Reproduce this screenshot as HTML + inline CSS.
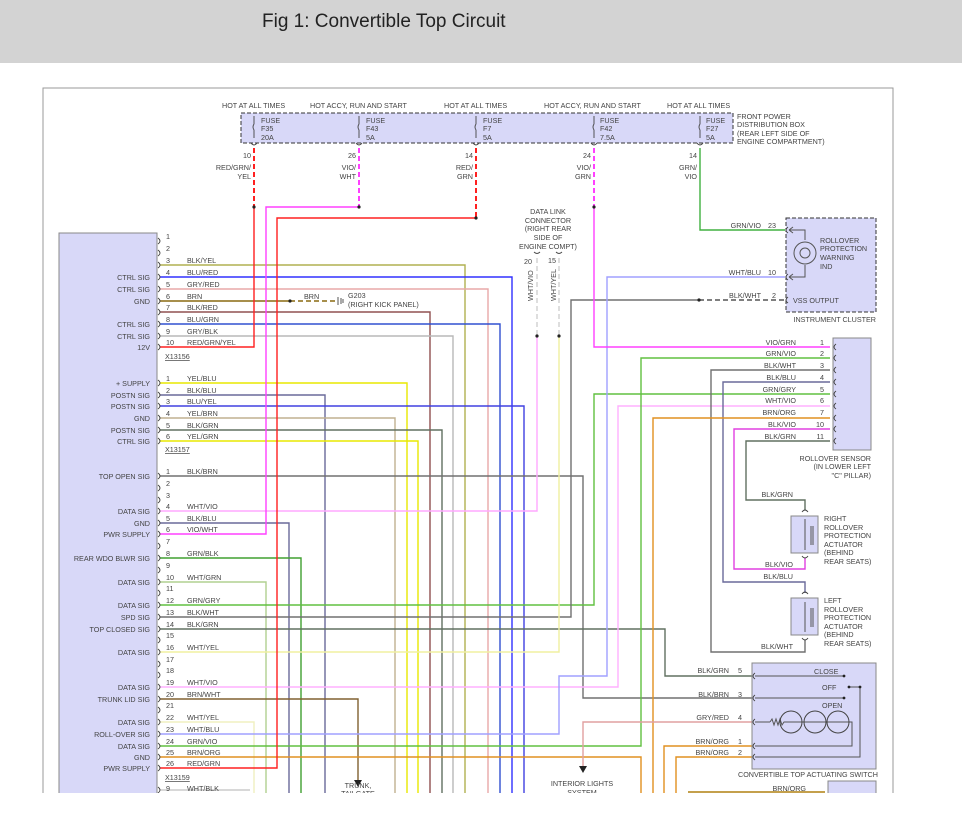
<!DOCTYPE html>
<html><head><meta charset="utf-8"><style>
html,body{margin:0;padding:0;background:#fff;width:962px;height:821px;overflow:hidden}
.hdr{position:absolute;left:0;top:0;width:962px;height:63px;background:#d3d3d3}
.hdr span{position:absolute;left:262px;top:11px;font:19px "Liberation Sans",sans-serif;color:#222}
svg{position:absolute;left:0;top:0}
text{font-family:"Liberation Sans",sans-serif;font-size:7.2px;fill:#444}
</style></head><body>
<div class="hdr"><span>Fig 1: Convertible Top Circuit</span></div>
<svg width="962" height="821" viewBox="0 0 962 821">
<defs><clipPath id="c"><rect x="0" y="64" width="962" height="729"/></clipPath></defs>
<g clip-path="url(#c)">
<g fill="none" stroke-width="1.4">
<path d="M43 793V88H893V793" stroke="#999" stroke-width="1"/>
<rect x="241" y="113" width="492" height="30" fill="#d8d8f8" stroke="#333" stroke-dasharray="4,2" stroke-width="1"/>
<rect x="59" y="233" width="98" height="580" fill="#d8d8f8" stroke="#888" stroke-width="1"/>
<path d="M254 148V207" stroke="#ff2020" stroke-dasharray="5,3" stroke-width="2"/>
<path d="M359 148V207" stroke="#ff40ff" stroke-dasharray="5,3" stroke-width="2"/>
<path d="M476 148V218" stroke="#ff2020" stroke-dasharray="5,3" stroke-width="2"/>
<path d="M594 148V207" stroke="#ff40ff" stroke-dasharray="5,3" stroke-width="2"/>
<path d="M700 148V230H785" stroke="#40b040"/>
<path d="M160 265H465V793" stroke="#b0b050"/>
<path d="M160 277H512V793" stroke="#3030ff"/>
<path d="M160 289H488V793" stroke="#e8a8a8"/>
<path d="M160 301H290" stroke="#8a6a10"/>
<path d="M290 301H336" stroke="#8a6a10" stroke-dasharray="5,3"/>
<path d="M160 312H430V793" stroke="#905050"/>
<path d="M160 324H500V793" stroke="#3050d0"/>
<path d="M160 336H453V793" stroke="#b8b8b8"/>
<path d="M160 347H254V207" stroke="#ff2020"/>
<path d="M160 383H407V793" stroke="#e8e800"/>
<path d="M160 395H325V793" stroke="#6a6a9a"/>
<path d="M160 406H524V793" stroke="#4040e0"/>
<path d="M160 418H395V793" stroke="#c0b090"/>
<path d="M160 430H442V793" stroke="#607060"/>
<path d="M160 441H418V793" stroke="#e8e800"/>
<path d="M160 476H583V698H752" stroke="#707070"/>
<path d="M160 511H537V336" stroke="#ffa8ff"/>
<path d="M160 523H289V793" stroke="#6a6a9a"/>
<path d="M160 534H266V207H359" stroke="#ff40ff"/>
<path d="M160 558H301V793" stroke="#40a030"/>
<path d="M160 582H266V793" stroke="#b0d090"/>
<path d="M160 605H594V394H830" stroke="#60c040"/>
<path d="M160 617H571V300H699" stroke="#707070"/>
<path d="M699 300H785" stroke="#555" stroke-dasharray="5,3"/>
<path d="M160 629H665V676H752" stroke="#607060"/>
<path d="M160 652H559V336" stroke="#f0f0a0"/>
<path d="M160 687H618V406H830" stroke="#ffb0ff"/>
<path d="M160 699H358V780" stroke="#806030"/>
<path d="M160 722H254V793" stroke="#f0f0c0"/>
<path d="M160 734H559V676H607V277H785" stroke="#a0a0ff"/>
<path d="M160 746H641V358H830" stroke="#60c040"/>
<path d="M160 757H641V793" stroke="#e09020"/>
<path d="M160 768H277V218H476" stroke="#ff2020"/>
<path d="M160 790H250" stroke="#ccc"/>
<path d="M594 207V347H830" stroke="#ff40ff"/>
<path d="M830 370H711V652H805V640" stroke="#707070"/>
<path d="M830 382H723V582H805V593" stroke="#6a6a9a"/>
<path d="M830 418H653V793" stroke="#e09020"/>
<path d="M830 429H734V569H805V558" stroke="#e040e0"/>
<path d="M830 441H746V500H805V510" stroke="#607060"/>
<path d="M752 746H664V793" stroke="#e09020"/>
<path d="M752 757H676V793" stroke="#e09020"/>
<path d="M688 792H825" stroke="#b08010"/>
<path d="M752 722H583V766" stroke="#e0a0a0"/>
<path d="M537 258V336M559 258V336" stroke="#d0d0d0" stroke-dasharray="5,3"/>
<rect x="786" y="218" width="90" height="94" fill="#d8d8f8" stroke="#333" stroke-dasharray="4,2" stroke-width="1"/>
<rect x="833" y="338" width="38" height="112" fill="#d8d8f8" stroke="#888" stroke-width="1"/>
<rect x="791" y="516" width="27" height="37" fill="#d8d8f8" stroke="#888" stroke-width="1"/>
<rect x="791" y="598" width="27" height="37" fill="#d8d8f8" stroke="#888" stroke-width="1"/>
<rect x="752" y="663" width="124" height="106" fill="#d8d8f8" stroke="#888" stroke-width="1"/>
<rect x="828" y="781" width="48" height="30" fill="#d8d8f8" stroke="#888" stroke-width="1"/>
<path d="M789 230H805V240M789 277H805V265M789 230l4-3M789 230l4 3M789 277l4-3M789 277l4 3" stroke="#555" stroke-width="1"/>
<circle cx="805" cy="253" r="11" stroke="#555" stroke-width="1"/>
<circle cx="805" cy="253" r="5" stroke="#555" stroke-width="1"/>
<path d="M805 519V550M811 526V545M813 526V545M805 602V632M811 608V627M813 608V627" stroke="#555" stroke-width="1"/>
<path d="M755 676H844M755 698H844M849 687H860V757H755M755 746H852V722H840M755 722H770" stroke="#555" stroke-width="1"/>
<path d="M770 722l2-3 2 6 2-6 2 6 2-6 2 6 2-3H840" stroke="#555" stroke-width="1"/>
<circle cx="791" cy="722" r="11" stroke="#444" stroke-width="1"/>
<circle cx="815" cy="722" r="11" stroke="#444" stroke-width="1"/>
<circle cx="838" cy="722" r="11" stroke="#444" stroke-width="1"/>
</g>
<g fill="none" stroke="#444" stroke-width="0.9">
<path d="M158 238q4 3 0 6M158 250q4 3 0 6M158 262q4 3 0 6M158 274q4 3 0 6M158 286q4 3 0 6M158 298q4 3 0 6M158 309q4 3 0 6M158 321q4 3 0 6M158 333q4 3 0 6M158 344q4 3 0 6"/>
<path d="M158 380q4 3 0 6M158 392q4 3 0 6M158 403q4 3 0 6M158 415q4 3 0 6M158 427q4 3 0 6M158 438q4 3 0 6"/>
<path d="M158 473q4 3 0 6M158 485q4 3 0 6M158 497q4 3 0 6M158 508q4 3 0 6M158 520q4 3 0 6M158 531q4 3 0 6M158 543q4 3 0 6M158 555q4 3 0 6M158 567q4 3 0 6M158 579q4 3 0 6M158 590q4 3 0 6M158 602q4 3 0 6M158 614q4 3 0 6M158 626q4 3 0 6M158 637q4 3 0 6M158 649q4 3 0 6M158 661q4 3 0 6M158 672q4 3 0 6M158 684q4 3 0 6M158 696q4 3 0 6M158 707q4 3 0 6M158 719q4 3 0 6M158 731q4 3 0 6M158 743q4 3 0 6M158 754q4 3 0 6M158 765q4 3 0 6M158 787q4 3 0 6"/>
<path d="M788 227q-4 3 0 6M788 274q-4 3 0 6M788 297q-4 3 0 6M836 344q-4 3 0 6M836 355q-4 3 0 6M836 367q-4 3 0 6M836 379q-4 3 0 6M836 391q-4 3 0 6M836 403q-4 3 0 6M836 415q-4 3 0 6M836 426q-4 3 0 6M836 438q-4 3 0 6"/>
<path d="M755 673q-4 3 0 6M755 695q-4 3 0 6M755 719q-4 3 0 6M755 743q-4 3 0 6M755 754q-4 3 0 6"/>
<path d="M251 143q3 4 6 0M356 143q3 4 6 0M473 143q3 4 6 0M591 143q3 4 6 0M697 143q3 4 6 0M534 252q3 3 6 0M556 252q3 3 6 0"/>
<path d="M802 512q3-4 6 0M802 556q3 4 6 0M802 594q3-4 6 0M802 638q3 4 6 0"/>
<path d="M254 116v8q-2 3 0 6v8M359 116v8q-2 3 0 6v8M476 116v8q-2 3 0 6v8M594 116v8q-2 3 0 6v8M700 116v8q-2 3 0 6v8"/>
<path d="M338 297v8M341 298v6M343 299v4"/>
</g>
<g fill="#222">
<circle cx="254" cy="207" r="1.6"/><circle cx="359" cy="207" r="1.6"/><circle cx="476" cy="218" r="1.6"/><circle cx="594" cy="207" r="1.6"/>
<circle cx="290" cy="301" r="1.6"/><circle cx="699" cy="300" r="1.6"/><circle cx="537" cy="336" r="1.6"/><circle cx="559" cy="336" r="1.6"/>
<circle cx="844" cy="676" r="1.4"/><circle cx="844" cy="698" r="1.4"/><circle cx="849" cy="687" r="1.4"/><circle cx="860" cy="687" r="1.4"/>
<path d="M354 780h8l-4 7zM579 766h8l-4 7z"/>
</g>
<text x="222" y="108">HOT AT ALL TIMES</text>
<text x="310" y="108">HOT ACCY, RUN AND START</text>
<text x="444" y="108">HOT AT ALL TIMES</text>
<text x="544" y="108">HOT ACCY, RUN AND START</text>
<text x="667" y="108">HOT AT ALL TIMES</text>
<text x="261" y="123">FUSE</text><text x="261" y="131">F35</text><text x="261" y="140">20A</text>
<text x="366" y="123">FUSE</text><text x="366" y="131">F43</text><text x="366" y="140">5A</text>
<text x="483" y="123">FUSE</text><text x="483" y="131">F7</text><text x="483" y="140">5A</text>
<text x="600" y="123">FUSE</text><text x="600" y="131">F42</text><text x="600" y="140">7.5A</text>
<text x="706" y="123">FUSE</text><text x="706" y="131">F27</text><text x="706" y="140">5A</text>
<text x="737" y="119">FRONT POWER</text><text x="737" y="127">DISTRIBUTION BOX</text><text x="737" y="136">(REAR LEFT SIDE OF</text><text x="737" y="144">ENGINE COMPARTMENT)</text>
<g text-anchor="end">
<text x="251" y="158">10</text><text x="251" y="170">RED/GRN/</text><text x="251" y="179">YEL</text>
<text x="356" y="158">26</text><text x="356" y="170">VIO/</text><text x="356" y="179">WHT</text>
<text x="473" y="158">14</text><text x="473" y="170">RED/</text><text x="473" y="179">GRN</text>
<text x="591" y="158">24</text><text x="591" y="170">VIO/</text><text x="591" y="179">GRN</text>
<text x="697" y="158">14</text><text x="697" y="170">GRN/</text><text x="697" y="179">VIO</text>
</g>
<g text-anchor="middle">
<text x="548" y="214">DATA LINK</text><text x="548" y="223">CONNECTOR</text><text x="548" y="231">(RIGHT REAR</text><text x="548" y="240">SIDE OF</text><text x="548" y="249">ENGINE COMPT)</text>
<text x="528" y="264">20</text><text x="552" y="263">15</text>
<text x="358" y="788">TRUNK,</text><text x="358" y="796">TAILGATE</text>
<text x="582" y="786">INTERIOR LIGHTS</text><text x="582" y="795">SYSTEM</text>
</g>
<text transform="translate(533,301) rotate(-90)">WHT/VIO</text>
<text transform="translate(556,301) rotate(-90)">WHT/YEL</text>
<text x="304" y="299">BRN</text><text x="348" y="298">G203</text><text x="348" y="307">(RIGHT KICK PANEL)</text>
<g>
<text x="166" y="239">1</text><text x="166" y="251">2</text>
<text x="166" y="263">3</text><text x="187" y="263">BLK/YEL</text>
<text x="166" y="275">4</text><text x="187" y="275">BLU/RED</text>
<text x="166" y="287">5</text><text x="187" y="287">GRY/RED</text>
<text x="166" y="299">6</text><text x="187" y="299">BRN</text>
<text x="166" y="310">7</text><text x="187" y="310">BLK/RED</text>
<text x="166" y="322">8</text><text x="187" y="322">BLU/GRN</text>
<text x="166" y="334">9</text><text x="187" y="334">GRY/BLK</text>
<text x="166" y="345">10</text><text x="187" y="345">RED/GRN/YEL</text>
<text x="165" y="359" text-decoration="underline">X13156</text>
<text x="166" y="381">1</text><text x="187" y="381">YEL/BLU</text>
<text x="166" y="393">2</text><text x="187" y="393">BLK/BLU</text>
<text x="166" y="404">3</text><text x="187" y="404">BLU/YEL</text>
<text x="166" y="416">4</text><text x="187" y="416">YEL/BRN</text>
<text x="166" y="428">5</text><text x="187" y="428">BLK/GRN</text>
<text x="166" y="439">6</text><text x="187" y="439">YEL/GRN</text>
<text x="165" y="452" text-decoration="underline">X13157</text>
<text x="166" y="474">1</text><text x="187" y="474">BLK/BRN</text>
<text x="166" y="486">2</text><text x="166" y="498">3</text>
<text x="166" y="509">4</text><text x="187" y="509">WHT/VIO</text>
<text x="166" y="521">5</text><text x="187" y="521">BLK/BLU</text>
<text x="166" y="532">6</text><text x="187" y="532">VIO/WHT</text>
<text x="166" y="544">7</text>
<text x="166" y="556">8</text><text x="187" y="556">GRN/BLK</text>
<text x="166" y="568">9</text>
<text x="166" y="580">10</text><text x="187" y="580">WHT/GRN</text>
<text x="166" y="591">11</text>
<text x="166" y="603">12</text><text x="187" y="603">GRN/GRY</text>
<text x="166" y="615">13</text><text x="187" y="615">BLK/WHT</text>
<text x="166" y="627">14</text><text x="187" y="627">BLK/GRN</text>
<text x="166" y="638">15</text>
<text x="166" y="650">16</text><text x="187" y="650">WHT/YEL</text>
<text x="166" y="662">17</text><text x="166" y="673">18</text>
<text x="166" y="685">19</text><text x="187" y="685">WHT/VIO</text>
<text x="166" y="697">20</text><text x="187" y="697">BRN/WHT</text>
<text x="166" y="708">21</text>
<text x="166" y="720">22</text><text x="187" y="720">WHT/YEL</text>
<text x="166" y="732">23</text><text x="187" y="732">WHT/BLU</text>
<text x="166" y="744">24</text><text x="187" y="744">GRN/VIO</text>
<text x="166" y="755">25</text><text x="187" y="755">BRN/ORG</text>
<text x="166" y="766">26</text><text x="187" y="766">RED/GRN</text>
<text x="165" y="780" text-decoration="underline">X13159</text>
<text x="166" y="791">9</text><text x="187" y="791">WHT/BLK</text>
</g>
<g text-anchor="end">
<text x="150" y="280">CTRL SIG</text><text x="150" y="292">CTRL SIG</text><text x="150" y="304">GND</text>
<text x="150" y="327">CTRL SIG</text><text x="150" y="339">CTRL SIG</text><text x="150" y="350">12V</text>
<text x="150" y="386">+ SUPPLY</text><text x="150" y="398">POSTN SIG</text><text x="150" y="409">POSTN SIG</text>
<text x="150" y="421">GND</text><text x="150" y="433">POSTN SIG</text><text x="150" y="444">CTRL SIG</text>
<text x="150" y="479">TOP OPEN SIG</text><text x="150" y="514">DATA SIG</text><text x="150" y="526">GND</text>
<text x="150" y="537">PWR SUPPLY</text><text x="150" y="561">REAR WDO BLWR SIG</text><text x="150" y="585">DATA SIG</text>
<text x="150" y="608">DATA SIG</text><text x="150" y="620">SPD SIG</text><text x="150" y="632">TOP CLOSED SIG</text>
<text x="150" y="655">DATA SIG</text><text x="150" y="690">DATA SIG</text><text x="150" y="702">TRUNK LID SIG</text>
<text x="150" y="725">DATA SIG</text><text x="150" y="737">ROLL-OVER SIG</text><text x="150" y="749">DATA SIG</text>
<text x="150" y="760">GND</text><text x="150" y="771">PWR SUPPLY</text>
<text x="761" y="228">GRN/VIO</text><text x="776" y="228">23</text>
<text x="761" y="275">WHT/BLU</text><text x="776" y="275">10</text>
<text x="761" y="298">BLK/WHT</text><text x="776" y="298">2</text>
<text x="796" y="345">VIO/GRN</text><text x="824" y="345">1</text>
<text x="796" y="356">GRN/VIO</text><text x="824" y="356">2</text>
<text x="796" y="368">BLK/WHT</text><text x="824" y="368">3</text>
<text x="796" y="380">BLK/BLU</text><text x="824" y="380">4</text>
<text x="796" y="392">GRN/GRY</text><text x="824" y="392">5</text>
<text x="796" y="403">WHT/VIO</text><text x="824" y="403">6</text>
<text x="796" y="415">BRN/ORG</text><text x="824" y="415">7</text>
<text x="796" y="427">BLK/VIO</text><text x="824" y="427">10</text>
<text x="796" y="439">BLK/GRN</text><text x="824" y="439">11</text>
<text x="871" y="461">ROLLOVER SENSOR</text><text x="871" y="469">(IN LOWER LEFT</text><text x="871" y="478">"C" PILLAR)</text>
<text x="793" y="497">BLK/GRN</text><text x="793" y="567">BLK/VIO</text><text x="793" y="579">BLK/BLU</text><text x="793" y="649">BLK/WHT</text>
<text x="729" y="673">BLK/GRN</text><text x="742" y="673">5</text>
<text x="729" y="697">BLK/BRN</text><text x="742" y="697">3</text>
<text x="729" y="720">GRY/RED</text><text x="742" y="720">4</text>
<text x="729" y="744">BRN/ORG</text><text x="742" y="744">1</text>
<text x="729" y="755">BRN/ORG</text><text x="742" y="755">2</text>
<text x="806" y="791">BRN/ORG</text>
<text x="876" y="322">INSTRUMENT CLUSTER</text>
</g>
<text x="820" y="243">ROLLOVER</text><text x="820" y="251">PROTECTION</text><text x="820" y="260">WARNING</text><text x="820" y="269">IND</text>
<text x="793" y="303">VSS OUTPUT</text>
<text x="824" y="521">RIGHT</text><text x="824" y="530">ROLLOVER</text><text x="824" y="538">PROTECTION</text><text x="824" y="547">ACTUATOR</text><text x="824" y="555">(BEHIND</text><text x="824" y="564">REAR SEATS)</text>
<text x="824" y="603">LEFT</text><text x="824" y="612">ROLLOVER</text><text x="824" y="620">PROTECTION</text><text x="824" y="629">ACTUATOR</text><text x="824" y="637">(BEHIND</text><text x="824" y="646">REAR SEATS)</text>
<text x="814" y="674">CLOSE</text><text x="822" y="690">OFF</text><text x="822" y="708">OPEN</text>
<text x="738" y="777">CONVERTIBLE TOP ACTUATING SWITCH</text>
</g>
</svg>
</body></html>
